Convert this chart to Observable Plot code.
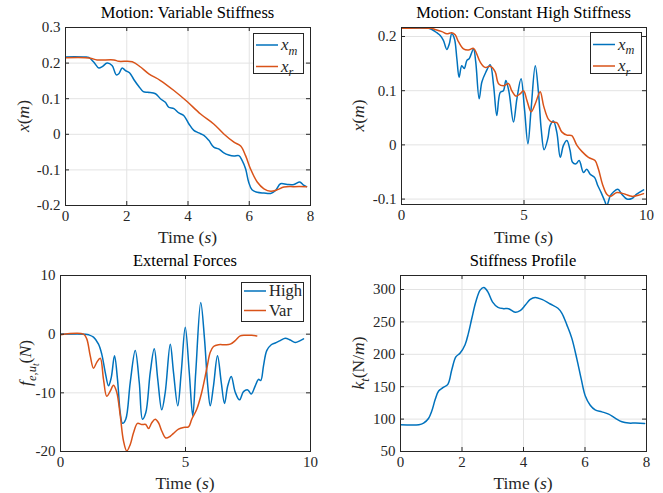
<!DOCTYPE html>
<html><head><meta charset="utf-8">
<script src="https://cdn.jsdelivr.net/npm/d3@7"></script>
<script src="https://cdn.jsdelivr.net/npm/@observablehq/plot@0.6"></script>
<style>
body{margin:0;background:#fff;}
#wrap{position:relative;width:663px;height:493px;background:#fff;}
#wrap svg{position:absolute;overflow:visible;}
</style>
</head><body><div id="wrap"></div>
<script>
// ---- Data ----
const titles = ["Motion: Variable Stiffness","Motion: Constant High Stiffness","External Forces","Stiffness Profile"];
const legend12 = ["m","r"];            // subscripts of x_m, x_r
const legend3 = ["High","Var"];

const p1_t_xm = [0,0.3,0.6,0.76,0.92,1.09,1.2,1.36,1.52,1.66,1.74,1.85,1.96,2.09,2.23,2.39,2.54,2.69,2.94,3.1,3.26,3.37,3.54,3.7,3.86,4.03,4.19,4.35,4.52,4.68,4.84,5.0,5.17,5.33,5.5,5.66,5.77,5.88,5.98,6.09,6.26,6.48,6.7,6.86,7.02,7.24,7.46,7.65,7.76,7.87];
const p1_xm = [0.217,0.218,0.217,0.216,0.203,0.186,0.19,0.2,0.193,0.167,0.17,0.186,0.179,0.173,0.154,0.135,0.12,0.118,0.114,0.1,0.09,0.076,0.072,0.06,0.053,0.029,0.011,0.004,-0.003,-0.017,-0.036,-0.041,-0.052,-0.058,-0.061,-0.06,-0.074,-0.097,-0.134,-0.156,-0.163,-0.165,-0.166,-0.158,-0.139,-0.141,-0.141,-0.134,-0.142,-0.147];
const p1_t_xr = [0,0.65,0.85,1.03,1.58,1.74,2.18,2.45,2.72,3.1,3.54,3.97,4.41,4.84,5.17,5.5,5.72,5.88,6.04,6.26,6.48,6.7,6.91,7.13,7.46,7.87];
const p1_xr = [0.215,0.215,0.213,0.209,0.209,0.205,0.204,0.189,0.17,0.151,0.123,0.092,0.057,0.029,0.001,-0.022,-0.033,-0.06,-0.097,-0.134,-0.153,-0.16,-0.156,-0.148,-0.147,-0.147];

const p2_t_xm = [0,1.1,1.24,1.44,1.58,1.71,1.85,1.95,2.05,2.16,2.26,2.35,2.46,2.56,2.67,2.76,2.94,3.03,3.17,3.28,3.44,3.62,3.76,3.89,4.03,4.16,4.26,4.39,4.57,4.71,4.88,5.02,5.16,5.29,5.46,5.59,5.7,5.82,5.97,6.07,6.2,6.34,6.48,6.61,6.75,6.88,6.98,7.12,7.25,7.43,7.56,7.7,7.88,8.01,8.15,8.29,8.38,8.52,8.65,8.83,8.99,9.2,9.4,9.6,9.88];
const p2_xm = [0.215,0.215,0.213,0.207,0.202,0.193,0.176,0.186,0.205,0.196,0.159,0.125,0.146,0.141,0.156,0.159,0.177,0.153,0.085,0.116,0.134,0.148,0.109,0.054,0.097,0.1,0.119,0.097,0.042,0.085,0.122,0.066,0.002,0.066,0.146,0.097,0.03,-0.009,0.011,0.036,0.044,0.023,-0.023,-0.001,0.008,-0.01,-0.032,-0.035,-0.029,-0.051,-0.045,-0.054,-0.06,-0.075,-0.088,-0.103,-0.112,-0.094,-0.087,-0.082,-0.091,-0.1,-0.099,-0.091,-0.083];
const p2_t_xr = [0,1.2,1.37,1.65,1.85,2.05,2.19,2.33,2.53,2.73,2.94,3.07,3.21,3.41,3.62,3.82,3.96,4.16,4.37,4.5,4.67,4.84,4.98,5.12,5.29,5.46,5.66,5.8,6.0,6.14,6.34,6.54,6.75,6.95,7.16,7.36,7.63,7.9,8.04,8.2,8.38,8.52,8.79,9.13,9.4,9.67,9.88];
const p2_xr = [0.215,0.215,0.213,0.209,0.205,0.207,0.203,0.19,0.177,0.175,0.178,0.168,0.153,0.143,0.145,0.135,0.113,0.109,0.113,0.1,0.09,0.094,0.1,0.082,0.061,0.076,0.098,0.072,0.047,0.042,0.041,0.024,0.018,0.017,-0.001,-0.012,-0.023,-0.029,-0.045,-0.072,-0.091,-0.095,-0.088,-0.091,-0.095,-0.093,-0.09];

const p3_t_high = [0,1.0,1.12,1.32,1.52,1.65,1.79,1.92,2.03,2.16,2.28,2.39,2.48,2.61,2.79,2.99,3.15,3.28,3.41,3.59,3.75,3.89,4.05,4.19,4.39,4.52,4.69,4.83,4.99,5.15,5.29,5.41,5.61,5.76,5.89,5.99,6.12,6.28,6.43,6.56,6.69,6.83,6.99,7.16,7.32,7.49,7.63,7.79,7.92,8.01,8.12,8.25,8.43,8.59,8.79,8.99,9.19,9.39,9.59,9.72];
const p3_high = [0,0,-0.1,-0.5,-1.7,-3.4,-6.5,-8.8,-7.4,-3.7,-7.7,-13.4,-15.2,-14.5,-8.2,-2.8,-8.2,-14.5,-13.4,-6.5,-2.5,-7.7,-12.9,-9.9,-1.7,-6.5,-12.2,-6.5,1.2,-6.5,-13.9,-6.5,5.4,-0.8,-8.8,-12.2,-8.8,-3.7,-8.2,-11.8,-8.8,-7.2,-9.9,-11.2,-9.8,-9.5,-10.2,-8.8,-7.7,-7.9,-5.4,-2.8,-1.8,-1.5,-1.1,-0.7,-1.0,-1.4,-1.1,-0.8];
const p3_t_var = [0,0.92,1.05,1.19,1.32,1.45,1.59,1.72,1.85,1.99,2.12,2.25,2.39,2.52,2.65,2.79,2.92,3.08,3.25,3.41,3.52,3.65,3.79,3.92,4.05,4.21,4.39,4.52,4.72,4.92,5.12,5.25,5.45,5.65,5.85,5.99,6.12,6.32,6.59,6.79,6.99,7.19,7.39,7.65,7.85];
const p3_var = [-0.1,0,-0.8,-3.7,-5.8,-4.8,-4.1,-7.7,-10.6,-9.7,-8.7,-9.9,-13.9,-18.2,-19.9,-18.8,-16.8,-15.2,-15.4,-15.4,-16.1,-15.1,-14.5,-15.1,-16.5,-17.7,-17.4,-16.9,-16.2,-15.9,-15.8,-14.5,-12.8,-9.9,-5.9,-3.1,-2.1,-1.8,-1.8,-1.7,-1.1,-0.3,-0.2,-0.2,-0.3];

const p4_t = [0,0.6,0.75,0.91,1.02,1.13,1.24,1.38,1.54,1.67,1.8,1.94,2.1,2.21,2.32,2.45,2.59,2.71,2.84,2.99,3.17,3.35,3.51,3.73,3.89,4.06,4.22,4.38,4.6,4.87,5.12,5.25,5.41,5.57,5.74,5.88,6.01,6.17,6.33,6.55,6.77,6.98,7.2,7.42,7.64,7.94];
const p4_k = [91.3,91.3,93.9,101,112.8,130.6,143.4,148.5,153.6,176.5,195.9,202,214.8,232.7,255.6,281.1,299,303,296.4,281,272.4,270.4,270.4,264.8,267.3,276,284.7,287.8,284.7,277.6,271,263.3,245.4,225,191.8,161.2,135.7,121.4,114.3,111.2,107.7,101.5,95.9,93.9,93.9,93.4];

const xTicks8 = [0,2,4,6,8];
const xTicks10 = [0,5,10];
const yTicks1 = [-0.2,-0.1,0,0.1,0.2,0.3];
const yTicks2 = [-0.1,0,0.1,0.2];
const yTicks3 = [-20,-10,0,10];
const yTicks4 = [50,100,150,200,250,300];

// ---- Styling ----
const BLUE = "#0072BD", ORANGE = "#D95319", AX = "#262626", GRID = "#e3e3e3";
const FONT = "Liberation Serif, DejaVu Serif, Noto Serif, serif";
const zip = (t, v) => t.map((d, i) => ({t: d, v: v[i]})).filter(d => d.v !== undefined);
const fmt = d => String(d);

function panel(o) {
  const iw = o.W - o.ml - o.mr, ih = o.H - o.mt - o.mb;
  const svg = Plot.plot({
    width: o.W, height: o.H,
    marginLeft: o.ml, marginRight: o.mr, marginTop: o.mt, marginBottom: o.mb,
    style: {fontFamily: FONT, fontSize: "15px", color: AX, background: "transparent", overflow: "visible"},
    x: {domain: o.xd, ticks: o.xt, tickSize: 0, tickPadding: 5, tickFormat: fmt, label: null},
    y: {domain: o.yd, ticks: o.yt, tickSize: 0, tickPadding: 5, tickFormat: fmt, label: null},
    marks: [
      Plot.ruleX(o.xt, {x: d => d, stroke: GRID}),
      Plot.ruleY(o.yt, {y: d => d, stroke: GRID}),
      ...o.lines.map(s => Plot.line(s.data, {x: "t", y: "v", stroke: s.color, strokeWidth: 1.5, curve: "catmull-rom", clip: true})),
      Plot.tickX(o.xt, {x: d => d, insetTop: ih - 4, stroke: AX}),
      Plot.tickX(o.xt, {x: d => d, insetBottom: ih - 4, stroke: AX}),
      Plot.tickY(o.yt, {y: d => d, insetRight: iw - 4, stroke: AX}),
      Plot.tickY(o.yt, {y: d => d, insetLeft: iw - 4, stroke: AX}),
      Plot.frame({stroke: AX})
    ]
  });
  svg.style.left = o.left + "px";
  svg.style.top = o.top + "px";
  document.getElementById("wrap").appendChild(svg);
  const s = d3.select(svg);
  s.selectAll("text").style("font-family", FONT);
  const cx = o.ml + iw / 2;
  // title
  s.append("text").attr("x", cx).attr("y", o.titleY).attr("text-anchor", "middle")
    .style("font-family", FONT).attr("font-size", 16.5).attr("fill", "#000").text(o.title);
  // x label
  rich(s.append("text").attr("x", cx).attr("y", o.xlabY).attr("text-anchor", "middle"),
       [["Time (", 0], ["s", 1], [")", 0]], 17.5);
  // y label
  rich(s.append("text").attr("transform", `translate(${o.ylabX},${o.mt + ih / 2}) rotate(-90)`).attr("text-anchor", "middle"),
       o.ylab, 17.5);
  return s;
}

// parts: [text, italic, level] level: 0 normal, 1 sub, 2 subsub
function rich(sel, parts, size) {
  sel.style("font-family", FONT).attr("font-size", size).attr("fill", AX);
  let level = 0;
  const off = [0, 0.28, 0.46];
  const sz = [1, 0.72, 0.55];
  parts.forEach(([txt, it, lv = 0]) => {
    const dy = (off[lv] - off[level]) * size;
    const ts = sel.append("tspan").text(txt).attr("font-size", size * sz[lv]);
    if (it) ts.attr("font-style", "italic");
    if (dy) ts.attr("dy", dy);
    level = lv;
  });
  return sel;
}

function legend(s, box, rows, colors, labels, size) {
  s.append("rect").attr("x", box[0] + 0.5).attr("y", box[1] + 0.5).attr("width", box[2]).attr("height", box[3])
    .attr("fill", "#fff").attr("stroke", AX);
  rows.forEach((y, i) => {
    s.append("line").attr("x1", box[0] + 3).attr("x2", box[0] + 25).attr("y1", y).attr("y2", y)
      .attr("stroke", colors[i]).attr("stroke-width", 1.5);
    rich(s.append("text").attr("x", box[0] + 28).attr("y", y + 5).attr("text-anchor", "start"), labels[i], size);
  });
}

const s1 = panel({left: 0, top: 0, W: 331, H: 246, ml: 65, mr: 21, mt: 27, mb: 41,
  xd: [0, 8], xt: xTicks8, yd: [-0.2, 0.3], yt: yTicks1, title: titles[0], titleY: 18, xlabY: 243, ylabX: 29,
  ylab: [["x", 1], ["(", 0], ["m", 1], [")", 0]],
  lines: [{data: zip(p1_t_xm, p1_xm), color: BLUE}, {data: zip(p1_t_xr, p1_xr), color: ORANGE}]});
legend(s1, [253, 33, 50, 40], [45, 66.5], [BLUE, ORANGE], legend12.map(m => [["x", 1], [m, 1, 1]]), 17);

const s2 = panel({left: 331, top: 0, W: 332, H: 246, ml: 70, mr: 17, mt: 27, mb: 42,
  xd: [0, 10], xt: xTicks10, yd: [-0.11, 0.2166], yt: yTicks2, title: titles[1], titleY: 18, xlabY: 243, ylabX: 33,
  ylab: [["x", 1], ["(", 0], ["m", 1], [")", 0]],
  lines: [{data: zip(p2_t_xm, p2_xm), color: BLUE}, {data: zip(p2_t_xr, p2_xr), color: ORANGE}]});
legend(s2, [259, 32, 51, 41], [44.5, 66], [BLUE, ORANGE], legend12.map(m => [["x", 1], [m, 1, 1]]), 17);

const s3 = panel({left: 0, top: 246, W: 331, H: 247, ml: 60, mr: 21, mt: 29, mb: 42,
  xd: [0, 10], xt: xTicks10, yd: [-20, 10], yt: yTicks3, title: titles[2], titleY: 20, xlabY: 243, ylabX: 31,
  ylab: [["f", 1], ["e,u", 1, 1], ["t", 1, 2], ["(", 0, 0], ["N", 1], [")", 0]],
  lines: [{data: zip(p3_t_high, p3_high), color: BLUE}, {data: zip(p3_t_var, p3_var), color: ORANGE}]});
legend(s3, [241, 36, 62, 39], [45, 64.5], [BLUE, ORANGE], legend3.map(l => [[l, 0]]), 16.5);

const s4 = panel({left: 331, top: 246, W: 332, H: 247, ml: 69, mr: 17, mt: 29, mb: 42,
  xd: [0, 8], xt: xTicks8, yd: [50, 321.6], yt: yTicks4, title: titles[3], titleY: 20, xlabY: 243, ylabX: 33,
  ylab: [["k", 1], ["t", 1, 1], ["(N/", 0, 0], ["m", 1], [")", 0]],
  lines: [{data: zip(p4_t, p4_k), color: BLUE}]});
</script>
</body></html>
